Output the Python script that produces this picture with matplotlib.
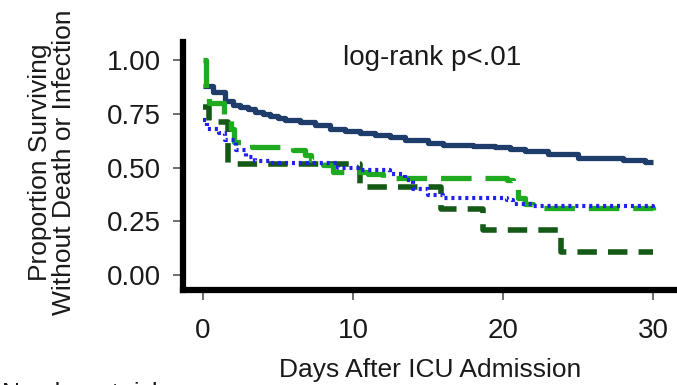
import matplotlib
matplotlib.use("Agg")
import matplotlib.pyplot as plt

plt.rcParams['font.family'] = ['Liberation Sans', 'DejaVu Sans']
plt.rcParams['lines.scale_dashes'] = False

# ---- data ----
navy_t = [0, 0.7, 1.5, 2.0, 2.5, 3.0, 3.5, 4.0, 4.5, 5.0, 5.5, 6.5, 7.5, 8.5, 9.5, 10.5,
          11.5, 12.5, 13.5, 15.0, 16.0, 18.0, 19.5, 20.5, 21.5, 23.0, 25.0, 28.0, 29.5, 30.0]
navy_s = [0.88, 0.85, 0.81, 0.79, 0.78, 0.77, 0.76, 0.75, 0.74, 0.73, 0.72, 0.71, 0.70, 0.68, 0.67, 0.66,
          0.65, 0.64, 0.63, 0.615, 0.605, 0.60, 0.595, 0.585, 0.575, 0.565, 0.545, 0.535, 0.525, 0.525]

green_t = [0, 0.2, 0.4, 1.4, 1.9, 2.1, 3.3, 6.0, 6.8, 7.2, 8.0, 8.7, 11.0, 12.0, 20.3, 20.7, 21.0, 21.5, 22.0, 30.0]
green_s = [1.00, 0.87, 0.80, 0.72, 0.68, 0.62, 0.595, 0.58, 0.56, 0.535, 0.51, 0.48, 0.47, 0.45, 0.44, 0.40, 0.36, 0.33, 0.31, 0.30]

blue_t = [0, 0.3, 1.1, 1.5, 2.2, 2.9, 3.5, 4.5, 9.0, 10.5, 12.5, 13.5, 14.0, 15.0, 16.0, 20.3, 20.7, 22.0, 30.0]
blue_s = [0.72, 0.68, 0.66, 0.63, 0.58, 0.55, 0.53, 0.52, 0.50, 0.49, 0.47, 0.44, 0.40, 0.37, 0.36, 0.35, 0.33, 0.32, 0.31]

dkgreen_t = [0, 0.4, 1.7, 10.5, 15.9, 18.7, 23.9, 30.0]
dkgreen_s = [0.78, 0.71, 0.515, 0.41, 0.307, 0.21, 0.107, 0.107]

x_ticks = [0, 10, 20, 30]
y_ticks = [0.00, 0.25, 0.50, 0.75, 1.00]
y_ticklabels = ["0.00", "0.25", "0.50", "0.75", "1.00"]

# ---- figure ----
W, H = 677, 385
fig = plt.figure(figsize=(W / 100, H / 100), dpi=100)
ax = fig.add_axes([183 / W, 1 - 290 / H, (677 - 183) / W, (290 - 42) / H])

ax.step(navy_t, navy_s, where='post', color='#1f3d6b', lw=3.8, solid_capstyle='butt', zorder=3)
ax.step(green_t, green_s, where='post', color='#1faa1f', lw=3.8, linestyle=(0, (22, 10)), zorder=4)
ax.step(blue_t, blue_s, where='post', color='#2020f0', lw=3.0, linestyle=(0, (2.2, 2.8)), zorder=5)
ax.step(dkgreen_t, dkgreen_s, where='post', color='#145a16', lw=4.0, linestyle=(0, (14, 8)), zorder=2)

ax.set_xlim(-1.33, 31.6)
ax.set_ylim(-0.07, 1.084)
ax.set_xticks(x_ticks)
ax.set_yticks(y_ticks)
ax.set_yticklabels(y_ticklabels)

for s in ['top', 'right']:
    ax.spines[s].set_visible(False)
for s in ['left', 'bottom']:
    ax.spines[s].set_linewidth(4.5)
    ax.spines[s].set_color('black')
    ax.spines[s].set_capstyle('projecting')

ax.tick_params(axis='both', direction='out', length=7, width=1.2, color='#555555',
               labelsize=20, labelcolor='#1a1a1a')
ax.tick_params(axis='x', pad=13)
ax.tick_params(axis='y', pad=9)

ax.set_xlabel("Days After ICU Admission", fontsize=19, color='#1a1a1a', labelpad=10)
fig.text(52 / W, 1 - 162 / H, "Proportion Surviving\nWithout Death or Infection",
         rotation=90, ha='center', va='center', fontsize=19, color='#1a1a1a',
         linespacing=1.0, multialignment='center')

ax.text(15.3, 1.01, "log-rank p<.01", ha='center', va='center', fontsize=20, color='#1a1a1a')

fig.text(0.003, 3 / H, "Number at risk", ha='left', va='top', fontsize=18, color='#1a1a1a')

fig.savefig("out.png", dpi=100)
